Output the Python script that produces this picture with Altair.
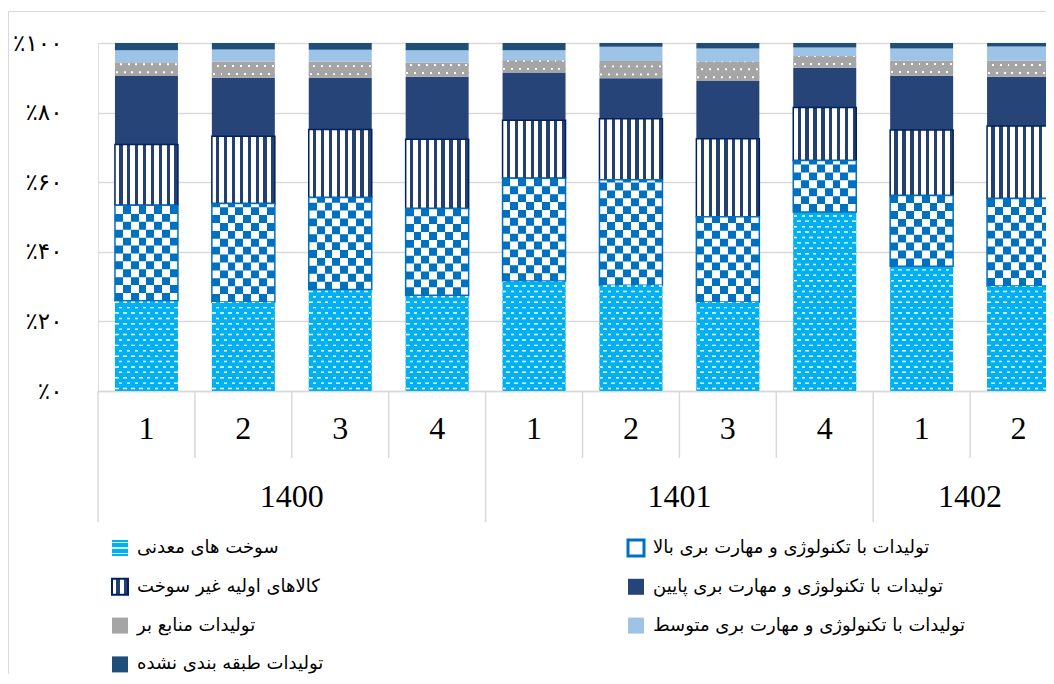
import altair as alt
import pandas as pd

# ---------------- data ----------------
years = ["1400", "1400", "1400", "1400", "1401", "1401", "1401", "1401", "1402", "1402"]
quarters = ["1", "2", "3", "4", "1", "2", "3", "4", "1", "2"]

series_names = [
    "سوخت های معدنی",
    "تولیدات با تکنولوژی و مهارت بری بالا",
    "کالاهای اولیه غیر سوخت",
    "تولیدات با تکنولوژی و مهارت بری پایین",
    "تولیدات منابع بر",
    "تولیدات با تکنولوژی و مهارت بری متوسط",
    "تولیدات طبقه بندی نشده",
]
fuels = [25.9, 25.6, 29.1, 27.5, 31.6, 30.4, 25.6, 51.4, 35.8, 30.2]
high_tech = [27.5, 28.3, 26.4, 24.9, 29.5, 30.3, 24.5, 14.8, 20.3, 25.2]
primary = [17.4, 19.4, 19.5, 19.9, 16.7, 17.5, 22.4, 15.2, 18.8, 20.8]
low_tech = [19.7, 16.8, 14.8, 17.9, 13.7, 11.7, 16.6, 11.4, 15.6, 14.2]
resource = [4.0, 4.7, 4.6, 4.0, 3.5, 4.9, 5.5, 3.3, 4.4, 4.6]
medium_tech = [3.4, 3.4, 3.5, 3.6, 2.9, 4.1, 3.8, 2.5, 3.4, 4.1]
unclassified = [2.1, 1.9, 1.9, 2.1, 2.1, 1.1, 1.6, 1.3, 1.6, 1.0]

y_tick_values = [0, 20, 40, 60, 80, 100]
y_tick_labels = ["٪۰", "٪۲۰", "٪۴۰", "٪۶۰", "٪۸۰", "٪۱۰۰"]

# ---------------- layout / style ----------------
W, H = 948, 348
STEP_PX = 96.9
X_MAX = W / STEP_PX - 0.5
HALF = 0.325
GRID = "#D9D9D9"

keys = ["fuel", "high", "primary", "low", "resource", "medium", "uncl"]
base_colors = ["#00B0F0", "#FFFFFF", "#FFFFFF", "#264478", "#A5A5A5", "#9DC3E6", "#1F4E79"]
CYAN, BLUE, NAVY_STRIPE, NAVY_EDGE, GRAY = "#00B0F0", "#0070C0", "#24406F", "#002060", "#A5A5A5"


def hard_stripes(on, off, n, frac, phase=0.0, across=True):
    stops = [{"offset": 0, "color": off}]
    for j in range(n):
        a = min((j + phase) / n, 1)
        b = min((j + phase + frac) / n, 1)
        stops += [{"offset": a, "color": off}, {"offset": a, "color": on},
                  {"offset": b, "color": on}, {"offset": b, "color": off}]
    stops.append({"offset": 1, "color": off})
    return {"gradient": "linear", "stops": stops, "x1": 0, "y1": 0,
            "x2": 1 if across else 0, "y2": 0 if across else 1}


# ---------------- tables built from the arrays ----------------
series_values = [fuels, high_tech, primary, low_tech, resource, medium_tech, unclassified]
rows = []
for i in range(len(years)):
    total = sum(v[i] for v in series_values)
    acc = 0.0
    for k, name, vals in zip(keys, series_names, series_values):
        v = vals[i] / total * 100
        rows.append(dict(i=i, year=years[i], quarter=quarters[i], key=k, series=name,
                         y0=acc, y1=acc + v))
        acc += v
df = pd.DataFrame(rows)


def pattern_rows(key, step, thick, offset):
    out = []
    for r in df[df.key == key].itertuples():
        k = 0
        y = r.y0 + offset
        while y < r.y1 - 1e-6:
            out.append(dict(i=r.i, k=k, y0=y, y1=min(y + thick, r.y1)))
            k += 1
            y += step
    return pd.DataFrame(out)


checker_rows = pattern_rows("high", 2.27, 2.27, 0.0)
checker_rows = checker_rows[checker_rows.k % 2 == 1]
fuel_rows = pattern_rows("fuel", 1.55, 0.42, 0.5)
res_rows = pattern_rows("resource", 2.3, 0.55, 0.8)

x_calc = dict(xl=f"datum.i - {HALF}", xr=f"datum.i + {HALF}")


def seg_enc():
    return dict(x=alt.X("xl:Q", title=None), x2="xr:Q",
                y=alt.Y("y0:Q", title=None), y2="y1:Q")


label_expr = ("[" + ",".join(f"'{s}'" for s in y_tick_labels) + "][indexof(["
              + ",".join(str(v) for v in y_tick_values) + "], datum.value)]")

base = alt.Chart(df).transform_calculate(**x_calc).mark_rect(clip=True).encode(
    x=alt.X("xl:Q", title=None,
            scale=alt.Scale(domain=[-0.5, X_MAX], nice=False, zero=False),
            axis=alt.Axis(domain=True, domainColor=GRID, domainWidth=1.5, ticks=False,
                          labels=False, grid=False, title=None)),
    x2="xr:Q",
    y=alt.Y("y0:Q", title=None, scale=alt.Scale(domain=[0, 100], nice=False),
            axis=alt.Axis(values=y_tick_values, labelExpr=label_expr, domain=False,
                          ticks=False, grid=True, gridColor=GRID, gridWidth=1.5,
                          labelFont="DejaVu Sans", labelFontSize=23, labelColor="#000000",
                          labelPadding=36, title=None)),
    y2="y1:Q",
    fill=alt.Fill("key:N", scale=alt.Scale(domain=keys, range=base_colors), legend=None),
)

stripes = alt.Chart(df[df.key == "primary"]).transform_calculate(**x_calc).mark_rect(
    clip=True, fill=hard_stripes(NAVY_STRIPE, "#FFFFFF", 8, 0.42, 0.55),
    stroke=NAVY_EDGE, strokeWidth=1.5).encode(**seg_enc())

checker_base = alt.Chart(df[df.key == "high"]).transform_calculate(**x_calc).mark_rect(
    clip=True, fill=hard_stripes(BLUE, "#FFFFFF", 4, 0.5, 0.0)).encode(**seg_enc())
checker_alt = alt.Chart(checker_rows).transform_calculate(**x_calc).mark_rect(
    clip=True, fill=hard_stripes(BLUE, "#FFFFFF", 4, 0.5, 0.5)).encode(**seg_enc())
checker_edge = alt.Chart(df[df.key == "high"]).transform_calculate(**x_calc).mark_rect(
    clip=True, fillOpacity=0, stroke=BLUE, strokeWidth=1.5).encode(**seg_enc())

fuel_even = alt.Chart(fuel_rows[fuel_rows.k % 2 == 0]).transform_calculate(**x_calc).mark_rect(
    clip=True, fill=hard_stripes("#FFFFFF", CYAN, 8, 0.45, 0.05)).encode(**seg_enc())
fuel_odd = alt.Chart(fuel_rows[fuel_rows.k % 2 == 1]).transform_calculate(**x_calc).mark_rect(
    clip=True, fill=hard_stripes("#FFFFFF", CYAN, 8, 0.45, 0.5)).encode(**seg_enc())

res_even = alt.Chart(res_rows[res_rows.k % 2 == 0]).transform_calculate(**x_calc).mark_rect(
    clip=True, fill=hard_stripes("#FFFFFF", GRAY, 8, 0.25, 0.1)).encode(**seg_enc())
res_odd = alt.Chart(res_rows[res_rows.k % 2 == 1]).transform_calculate(**x_calc).mark_rect(
    clip=True, fill=hard_stripes("#FFFFFF", GRAY, 8, 0.25, 0.6)).encode(**seg_enc())

# ---------------- multi-level category axis ----------------
bounds = []
for i in range(len(years) + 1):
    is_year = i == 0 or i == len(years) or years[i] != years[i - 1]
    bounds.append(dict(b=i - 0.5, kind="year" if is_year else "quarter"))
bdf = pd.DataFrame(bounds)

q_sep = alt.Chart(bdf[bdf.kind == "quarter"]).mark_rule(color=GRID, strokeWidth=1.5).encode(
    x=alt.X("b:Q", title=None), y=alt.value(H), y2=alt.value(H + 67))
y_sep = alt.Chart(bdf[bdf.kind == "year"]).mark_rule(color=GRID, strokeWidth=1.5).encode(
    x=alt.X("b:Q", title=None), y=alt.value(H), y2=alt.value(H + 131))

qdf = pd.DataFrame({"i": list(range(len(years))), "quarter": quarters, "year": years})
q_text = alt.Chart(qdf).mark_text(font="Liberation Serif", fontSize=32, color="#000000",
                                  baseline="middle").encode(
    x=alt.X("i:Q", title=None), y=alt.value(H + 38), text="quarter:N")
y_text = alt.Chart(qdf).transform_aggregate(xm="mean(i)", groupby=["year"]).mark_text(
    font="Liberation Serif", fontSize=32, color="#000000", baseline="middle").encode(
    x=alt.X("xm:Q", title=None), y=alt.value(H + 106), text="year:N")

# ---------------- chart border (left & top edges visible) ----------------
one = pd.DataFrame({"a": [0]})
border_l = alt.Chart(one).mark_rule(color=GRID, strokeWidth=1).encode(
    x=alt.value(-89.5), y=alt.value(-31.5), y2=alt.value(700))
border_t = alt.Chart(one).mark_rule(color=GRID, strokeWidth=1).encode(
    x=alt.value(-89.5), x2=alt.value(1200), y=alt.value(-31.5))

# ---------------- legend (two columns) ----------------
ldf = pd.DataFrame({"idx": list(range(len(keys))), "key": keys, "series": series_names})
leg_calc = dict(
    col="datum.idx % 2", row="floor(datum.idx / 2)",
    mx="datum.idx % 2 == 0 ? 14 : 530", my="505 + 38.8 * floor(datum.idx / 2)",
)
leg_calc2 = dict(mx2="datum.mx + 16", my0="datum.my - 8", my1="datum.my + 8", tx="datum.mx + 25")

leg_base = alt.Chart(ldf).transform_calculate(**leg_calc).transform_calculate(**leg_calc2)

leg_sq = leg_base.mark_rect().encode(
    x=alt.X("mx:Q", scale=None), x2="mx2:Q", y=alt.Y("my0:Q", scale=None), y2="my1:Q",
    fill=alt.Fill("key:N", scale=alt.Scale(domain=keys, range=base_colors), legend=None))
leg_prim = leg_base.transform_filter("datum.key == 'primary'").mark_rect(
    fill=hard_stripes(NAVY_STRIPE, "#FFFFFF", 2, 0.4, 0.55), stroke=NAVY_EDGE, strokeWidth=2).encode(
    x=alt.X("mx:Q", scale=None), x2="mx2:Q", y=alt.Y("my0:Q", scale=None), y2="my1:Q")
leg_high = leg_base.transform_filter("datum.key == 'high'").mark_rect(
    fill="#FFFFFF", stroke=BLUE, strokeWidth=3).encode(
    x=alt.X("mx:Q", scale=None), x2="mx2:Q", y=alt.Y("my0:Q", scale=None), y2="my1:Q")
leg_fuel = leg_base.transform_filter("datum.key == 'fuel'").mark_rect(
    fill=hard_stripes("#CFF0FC", CYAN, 3, 0.3, 0.35, across=False)).encode(
    x=alt.X("mx:Q", scale=None), x2="mx2:Q", y=alt.Y("my0:Q", scale=None), y2="my1:Q")
leg_text = leg_base.mark_text(align="left", baseline="middle", font="DejaVu Sans",
                              fontSize=18, color="#000000").encode(
    x=alt.X("tx:Q", scale=None), y=alt.Y("my:Q", scale=None), text="series:N")

chart = alt.layer(
    base, stripes, checker_base, checker_alt, checker_edge,
    fuel_even, fuel_odd, res_even, res_odd,
    q_sep, y_sep, q_text, y_text, border_l, border_t,
    leg_sq, leg_prim, leg_high, leg_fuel, leg_text,
).properties(
    width=W, height=H,
    padding={"left": 90, "top": 35, "right": 0, "bottom": 283},
    autosize=alt.AutoSizeParams(type="none"),
).configure_view(stroke=None).configure(background="#FFFFFF")

chart.save("out.html", embed_options={"renderer": "svg", "actions": False})
